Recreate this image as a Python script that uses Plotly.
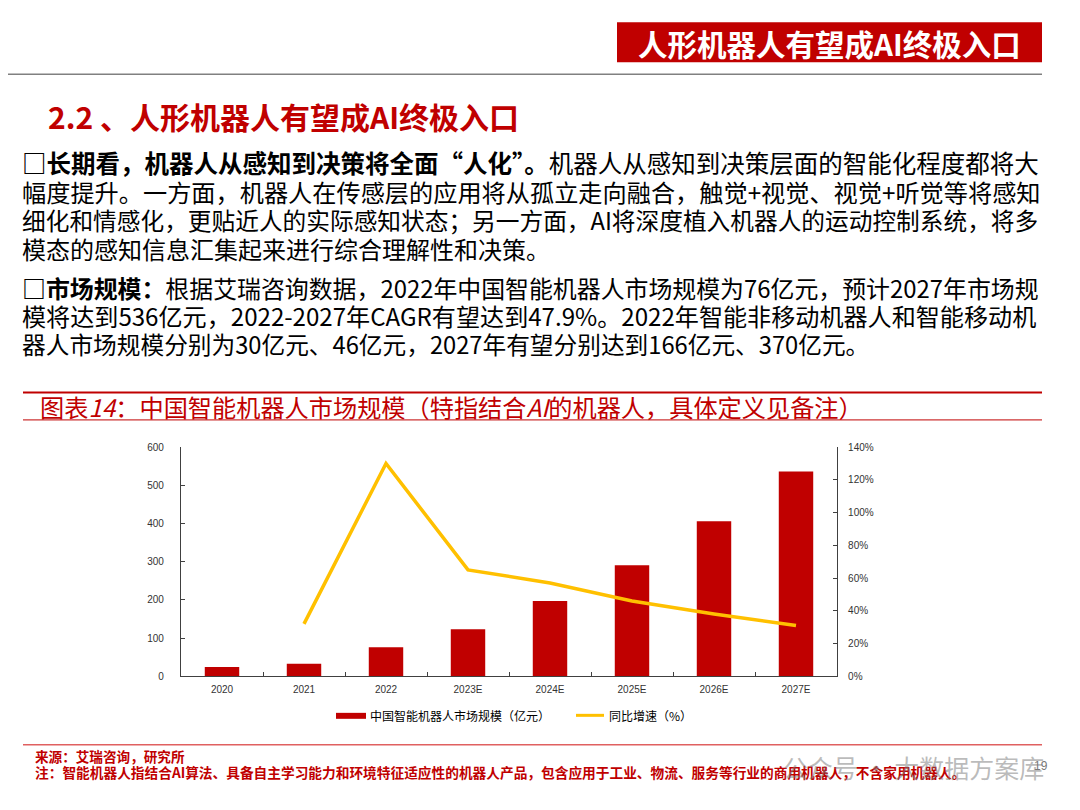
import plotly.graph_objects as go

W, H = 1080, 810

# ---------------- data ----------------
years = ["2020", "2021", "2022", "2023E", "2024E", "2025E", "2026E", "2027E"]
market_size = [24, 33, 76, 123, 197, 291, 406, 536]          # 亿元
yoy_growth = [None, 0.32, 1.30, 0.65, 0.57, 0.46, 0.38, 0.31]  # 同比增速

bar_name = "中国智能机器人市场规模（亿元）"
line_name = "同比增速（%）"

header_text = "人形机器人有望成AI终极入口"
section_title = "2.2 、人形机器人有望成AI终极入口"
para1 = [
    "<b>□长期看，机器人从感知到决策将全面“人化”。</b>机器人从感知到决策层面的智能化程度都将大",
    "幅度提升。一方面，机器人在传感层的应用将从孤立走向融合，触觉+视觉、视觉+听觉等将感知",
    "细化和情感化，更贴近人的实际感知状态；另一方面，AI将深度植入机器人的运动控制系统，将多",
    "模态的感知信息汇集起来进行综合理解性和决策。",
]
para1_sizes = [24.5, 24.2, 23.7, 24.0]
para2 = [
    "<b>□市场规模：</b>根据艾瑞咨询数据，2022年中国智能机器人市场规模为76亿元，预计2027年市场规",
    "模将达到536亿元，2022-2027年CAGR有望达到47.9%。2022年智能非移动机器人和智能移动机",
    "器人市场规模分别为30亿元、46亿元，2027年有望分别达到166亿元、370亿元。",
]
para2_sizes = [23.9, 24.1, 23.7]
chart_title = "图表<i>14</i>：中国智能机器人市场规模（特指结合<i>AI</i>的机器人，具体定义见备注）"
source_text = "来源：艾瑞咨询，研究所"
note_text = "注：智能机器人指结合AI算法、具备自主学习能力和环境特征适应性的机器人产品，包含应用于工业、物流、服务等行业的商用机器人，不含家用机器人。"
watermark = "公众号 · 大数据方案库"
page_no = "19"

RED = "#C00000"
YEL = "#FFC000"
CJK = "Noto Sans CJK SC"
OFF = 8  # page body margin compensation

def px(x):
    return (x - OFF) / W

def py(y):
    y = (y - 4.7) / 0.99
    return 1 - (y - OFF) / H

def note(text, x, y, size, color, anchor="left", family=CJK):
    return dict(text=text, x=px(x), y=py(y), xref="paper", yref="paper",
                showarrow=False, xanchor=anchor, yanchor="middle",
                font=dict(family=family, size=size, color=color))

fig = go.Figure()
fig.add_trace(go.Bar(x=years, y=market_size, name=bar_name, marker_color=RED,
                     marker_line_width=0, yaxis="y"))
fig.add_trace(go.Scatter(x=years, y=yoy_growth, name=line_name, mode="lines",
                         line=dict(color=YEL, width=3.5), yaxis="y2",
                         connectgaps=False))

tickfont = dict(family="Arial", size=10, color="#333333")
fig.update_layout(
    width=W, height=H,
    margin=dict(l=0, r=0, t=0, b=0),
    paper_bgcolor="white", plot_bgcolor="white",
    showlegend=False,
    bargap=0.58,
    xaxis=dict(domain=[px(181), px(837)], type="category", showline=True,
               linecolor="#404040", linewidth=1.2, ticks="inside", ticklen=4,
               tickson="boundaries", tickcolor="#404040", tickfont=tickfont,
               showgrid=False, zeroline=False, ticklabelstandoff=4),
    yaxis=dict(domain=[py(677.3), py(447.3)], range=[0, 600], dtick=100,
               showline=True, linecolor="#404040", linewidth=1.2, ticks="inside",
               ticklen=4, tickcolor="#404040", tickfont=tickfont, showgrid=False,
               zeroline=False, ticklabelstandoff=14),
    yaxis2=dict(overlaying="y", side="right", range=[0, 1.4], dtick=0.2,
                tickformat=".0%", showline=True, linecolor="#404040",
                linewidth=1.2, ticks="inside", ticklen=4, tickcolor="#404040",
                tickfont=tickfont, showgrid=False, zeroline=False,
                anchor="x", ticklabelstandoff=8),
)

shapes = []
annotations = []

# header box
shapes.append(dict(type="rect", xref="paper", yref="paper", x0=px(617), x1=px(1042),
                   y0=py(61), y1=py(21), fillcolor=RED, line=dict(width=0), layer="below"))
annotations.append(note("<b>" + header_text + "</b>", 829, 41.5, 29.5, "white", anchor="center"))
# gray rule
shapes.append(dict(type="line", xref="paper", yref="paper", x0=px(0), x1=px(1042),
                   y0=py(73), y1=py(73), line=dict(color="#808080", width=1.5)))
# section title
annotations.append(note("<b>" + section_title + "</b>", 46, 115, 30, RED))
# paragraphs
for i, t in enumerate(para1):
    annotations.append(note(t, 20, 162 + i * 28.5, para1_sizes[i], "black"))
for i, t in enumerate(para2):
    annotations.append(note(t, 20, 287 + i * 28.5, para2_sizes[i], "black"))
# chart title lines
shapes.append(dict(type="line", xref="paper", yref="paper", x0=px(23), x1=px(1042),
                   y0=py(392.5), y1=py(392.5), line=dict(color=RED, width=2)))
shapes.append(dict(type="line", xref="paper", yref="paper", x0=px(23), x1=px(1042),
                   y0=py(420), y1=py(420), line=dict(color=RED, width=1)))
annotations.append(note(chart_title, 38, 406.5, 24.2, RED))
# custom legend
shapes.append(dict(type="rect", xref="paper", yref="paper", x0=px(336), x1=px(366),
                   y0=py(720), y1=py(714), fillcolor=RED, line=dict(width=0)))
annotations.append(note(bar_name, 368, 716.5, 12, "black"))
shapes.append(dict(type="line", xref="paper", yref="paper", x0=px(576), x1=px(604),
                   y0=py(716.5), y1=py(716.5), line=dict(color=YEL, width=3)))
annotations.append(note(line_name, 607, 716.5, 12, "black"))
# footer
shapes.append(dict(type="line", xref="paper", yref="paper", x0=px(23), x1=px(1042),
                   y0=py(746), y1=py(746), line=dict(color="#E06060", width=1.5)))
annotations.append(note("<b>" + source_text + "</b>", 33, 757.5, 13.6, RED))
annotations.append(note("<b>" + note_text + "</b>", 33, 773, 13.7, RED))
annotations.append(note(watermark, 1046, 768, 25, "rgba(120,120,120,0.5)", anchor="right"))
annotations.append(note(page_no, 1050, 767, 12, "#777777", anchor="right", family="Arial"))

fig.update_layout(shapes=shapes, annotations=annotations)
fig.write_html("out.html")
